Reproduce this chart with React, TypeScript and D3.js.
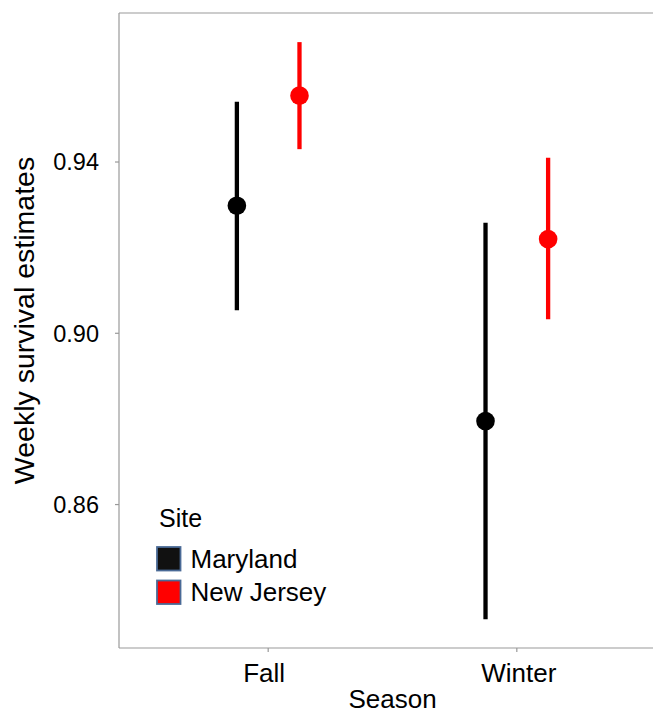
import React from "react";
import * as d3 from "d3";

const seasons = ["Fall", "Winter"];
const sites = ["Maryland", "New Jersey"];
const siteColors = ["#000000", "#ff0000"];
const keyFills = ["#111111", "#ff0000"];

// estimate, lower, upper per site, in season order
const estimates = [
  [0.9298, 0.8795],
  [0.9555, 0.922],
];
const lower = [
  [0.9054, 0.8332],
  [0.943, 0.9033],
];
const upper = [
  [0.9541, 0.9258],
  [0.968, 0.941],
];
const yTicks = [0.86, 0.9, 0.94];

const W = 653;
const H = 713;
const margin = { top: 13, left: 119, bottom: 65 };
const font = "'Liberation Sans', Arial, sans-serif";

const App = () => {
  const y = d3
    .scaleLinear()
    .domain([0.8265, 0.9748])
    .range([H - margin.bottom, margin.top]);
  const x = d3.scalePoint().domain(seasons).range([margin.left, 666]).padding(0.6);
  const dodge = d3.scalePoint().domain(sites).range([-31.3, 31.3]);

  const points = sites.flatMap((site, si) =>
    seasons.map((season, j) => ({
      site,
      season,
      color: siteColors[si],
      cx: x(season) + dodge(site),
      est: estimates[si][j],
      lo: lower[si][j],
      hi: upper[si][j],
    }))
  );

  const bottom = y.range()[0];
  const top = y.range()[1];

  return (
    <svg width={W} height={H} style={{ position: "absolute", left: 0, top: 0 }} fontFamily={font}>
      <rect width={W} height={H} fill="#fff" />
      {/* panel lines */}
      <line x1={margin.left} x2={700} y1={top} y2={top} stroke="#999" strokeWidth={1.2} />
      <line x1={margin.left} x2={700} y1={bottom} y2={bottom} stroke="#999" strokeWidth={1.2} />
      <line x1={margin.left} x2={margin.left} y1={top} y2={bottom} stroke="#999" strokeWidth={1.2} />

      {/* y axis */}
      {yTicks.map((t) => (
        <g key={t}>
          <line x1={margin.left - 4} x2={margin.left} y1={y(t)} y2={y(t)} stroke="#999" strokeWidth={1.2} />
          <text x={margin.left - 20} y={y(t)} dy="0.36em" textAnchor="end" fontSize={23.5}>
            {d3.format(".2f")(t)}
          </text>
        </g>
      ))}
      <text
        transform={`translate(34,${(top + bottom) / 2 - 10}) rotate(-90)`}
        textAnchor="middle"
        fontSize={28.5}
      >
        Weekly survival estimates
      </text>

      {/* x axis */}
      {seasons.map((s, i) => (
        <g key={s}>
          <line x1={x(s)} x2={x(s)} y1={bottom} y2={bottom + 4} stroke="#999" strokeWidth={1.2} />
          <text x={x(s) + (i === 0 ? -4 : 2)} y={682} textAnchor="middle" fontSize={26}>
            {s}
          </text>
        </g>
      ))}
      <text x={(margin.left + 666) / 2} y={708} textAnchor="middle" fontSize={26}>
        Season
      </text>

      {/* error bars and points */}
      {points.map((p) => (
        <g key={p.site + p.season}>
          <line x1={p.cx} x2={p.cx} y1={y(p.lo)} y2={y(p.hi)} stroke={p.color} strokeWidth={4.3} />
          <circle cx={p.cx} cy={y(p.est)} r={9.3} fill={p.color} />
        </g>
      ))}

      {/* legend */}
      <text x={159} y={527} fontSize={25}>
        Site
      </text>
      {sites.map((s, i) => (
        <g key={s} transform={`translate(157,${547 + i * 33.5})`}>
          <rect width={23.5} height={23.5} fill={keyFills[i]} stroke="#4a6a96" strokeWidth={1.8} />
          <text x={33.5} y={20.5} fontSize={26}>
            {s}
          </text>
        </g>
      ))}
    </svg>
  );
};

export default App;
